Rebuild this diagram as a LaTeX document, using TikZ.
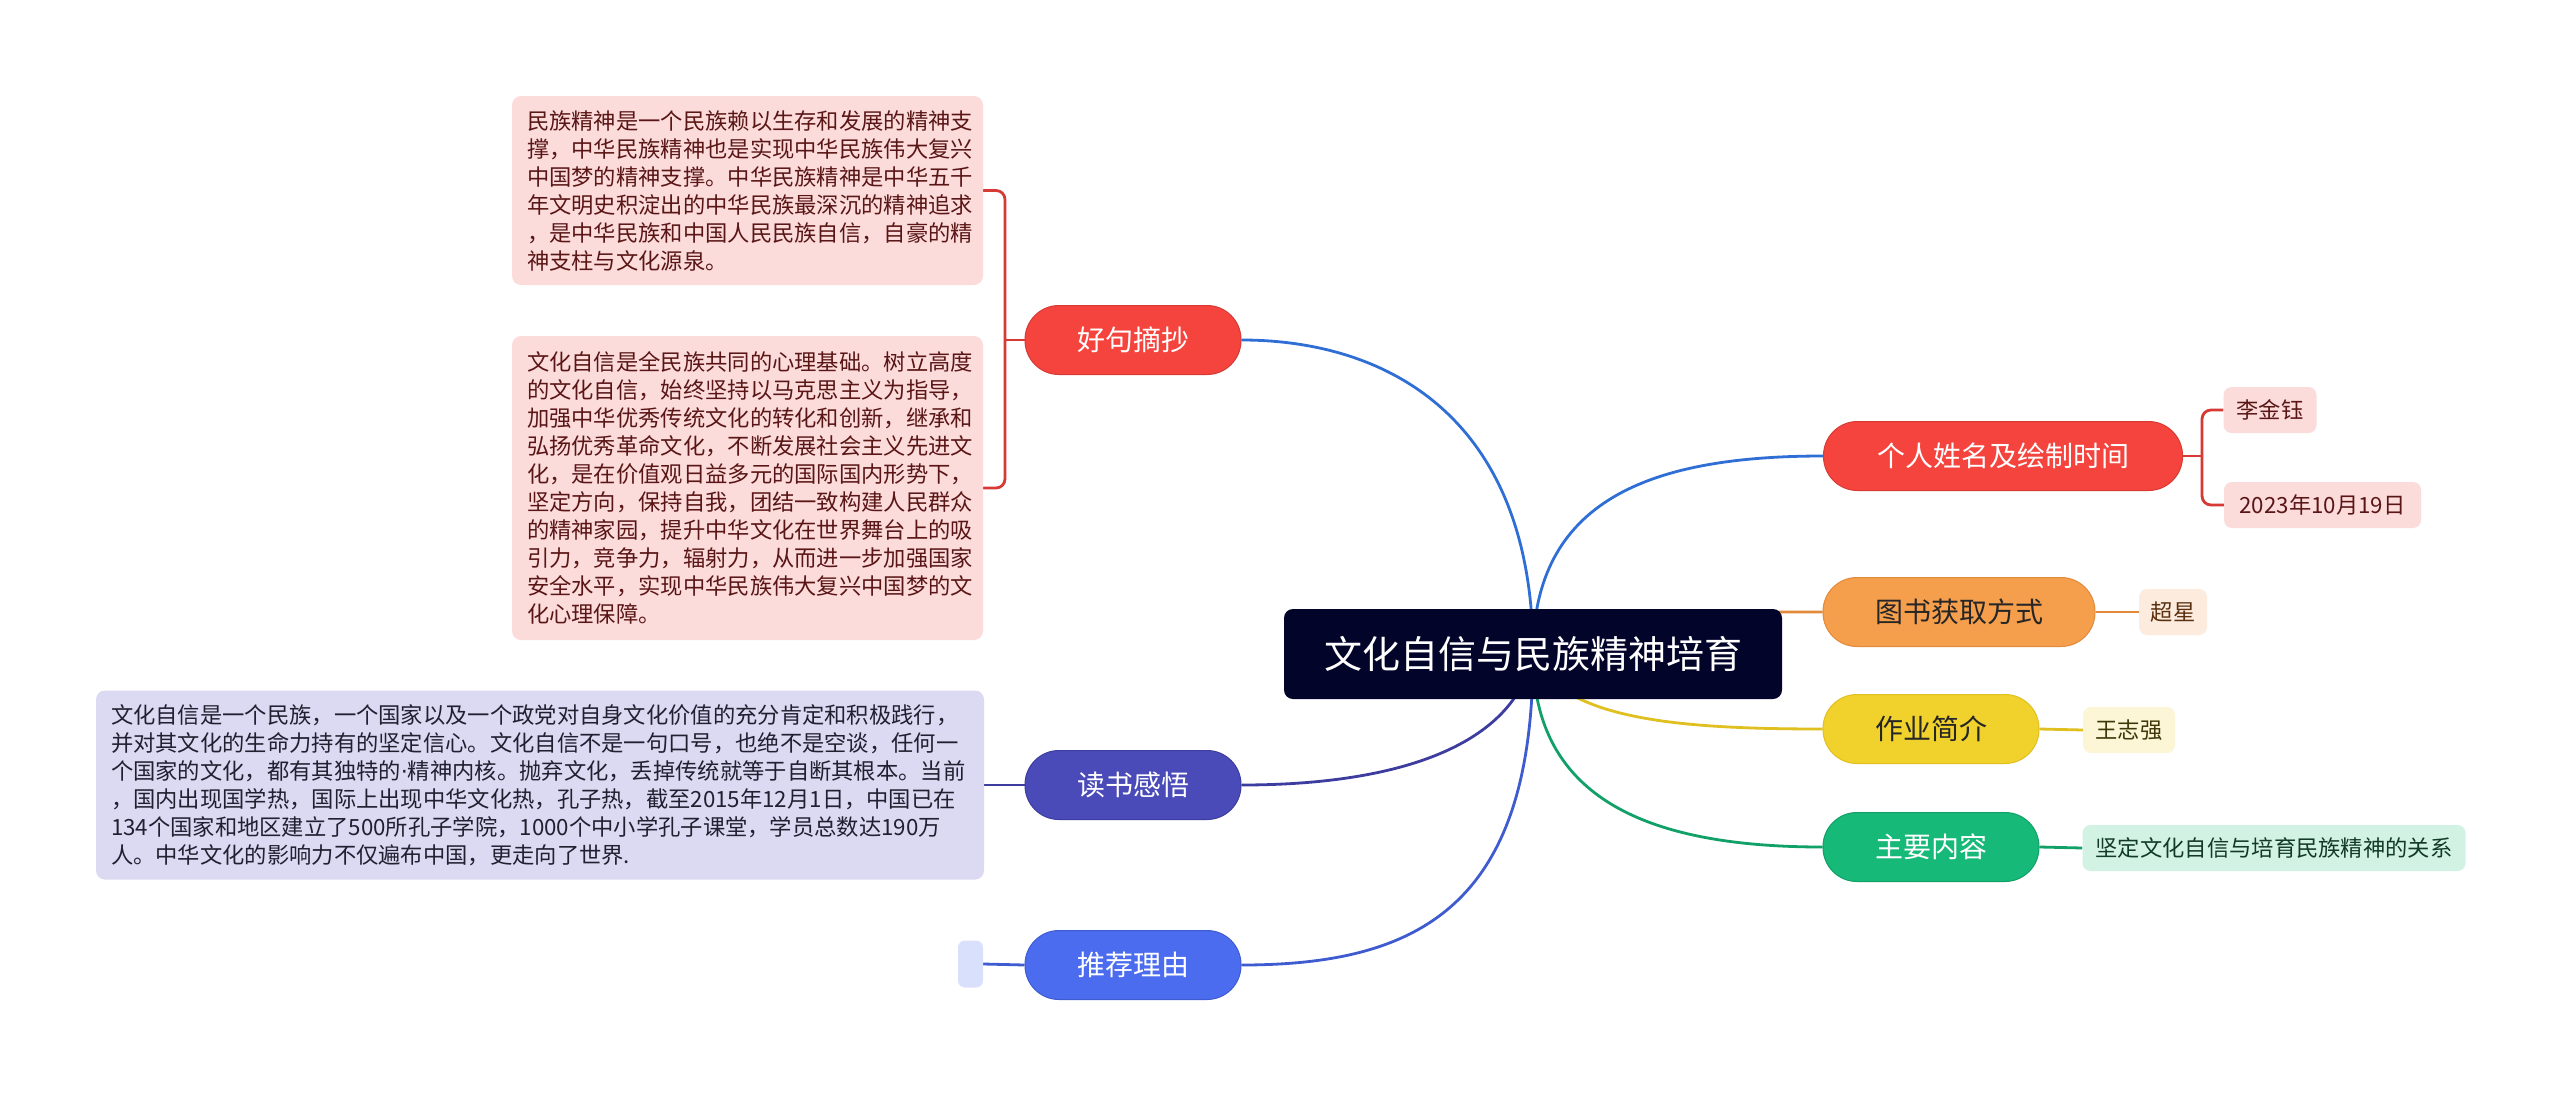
\documentclass[tikz,border=0pt]{standalone}
\usepackage{fontspec}
\setmainfont{Noto Sans CJK SC}
\newfontfamily\dotfont{DejaVu Sans}
\pgfdeclarelayer{lines}
\pgfsetlayers{lines,main}
\definecolor{rootbg}{HTML}{03042A}
\definecolor{redf}{HTML}{F5443E}
\definecolor{redd}{HTML}{D63A35}
\definecolor{indf}{HTML}{4A4BB8}
\definecolor{indd}{HTML}{3C3D9E}
\definecolor{bluf}{HTML}{4B6CEF}
\definecolor{blud}{HTML}{3F5BD0}
\definecolor{oraf}{HTML}{F59E4C}
\definecolor{orad}{HTML}{E08A3A}
\definecolor{yelf}{HTML}{F1D22C}
\definecolor{yeld}{HTML}{E0C020}
\definecolor{grnf}{HTML}{17B979}
\definecolor{grnd}{HTML}{10A068}
\definecolor{cblue}{HTML}{2F6FD5}
\definecolor{pinkl}{HTML}{FCDCDB}
\definecolor{lavl}{HTML}{DCDAF3}
\definecolor{skyl}{HTML}{D8E0FB}
\definecolor{peachl}{HTML}{FDEBDD}
\definecolor{creaml}{HTML}{FCF5D6}
\definecolor{mintl}{HTML}{D2F2E4}
\definecolor{darkred}{HTML}{5A1616}
\definecolor{darkbrown}{HTML}{5A3010}
\definecolor{darkolive}{HTML}{3E3808}
\definecolor{darkgreen}{HTML}{123A28}
\definecolor{darkgray}{HTML}{202030}
\tikzset{
  rootbox/.style={fill=rootbg, text=white, rounded corners=9pt, minimum width=498pt, minimum height=90pt, inner sep=0pt, font=\fontsize{38}{44}\selectfont},
  lone/.style={rounded corners=34pt, minimum height=69pt, inner sep=0pt, line width=1pt, font=\fontsize{28}{34}\selectfont},
  leaf/.style={rounded corners=8pt, minimum height=46pt, inner sep=0pt, font=\fontsize{22.3}{28}\selectfont},
  para/.style={rounded corners=9pt, inner xsep=15pt, inner ysep=0pt, align=left, font=\fontsize{22.3}{28}\selectfont},
  conn/.style={line width=2.8pt},
}
\begin{document}
\begin{tikzpicture}[x=1pt,y=-1pt]
\useasboundingbox (0,0) rectangle (2560,1095);
% root
\node[rootbox] (root) at (1533,654) {文化自信与民族精神培育};
% left level 1
\node[lone, fill=redf, draw=redd, text=white, minimum width=216pt] (hao) at (1133,340) {好句摘抄};
\node[lone, fill=indf, draw=indd, text=white, minimum width=216pt] (du) at (1133,785) {读书感悟};
\node[lone, fill=bluf, draw=blud, text=white, minimum width=216pt] (tui) at (1133,965) {推荐理由};
% left leaves
\node[para, fill=pinkl, text=darkred, text width=441pt, minimum height=189pt] (p1) at (747.5,190.5) {民族精神是一个民族赖以生存和发展的精神支\\撑，中华民族精神也是实现中华民族伟大复兴\\中国梦的精神支撑。中华民族精神是中华五千\\年文明史积淀出的中华民族最深沉的精神追求\\，是中华民族和中国人民民族自信，自豪的精\\神支柱与文化源泉。};
\node[para, fill=pinkl, text=darkred, text width=441pt, minimum height=304pt] (p2) at (747.5,488) {文化自信是全民族共同的心理基础。树立高度\\的文化自信，始终坚持以马克思主义为指导，\\加强中华优秀传统文化的转化和创新，继承和\\弘扬优秀革命文化，不断发展社会主义先进文\\化，是在价值观日益多元的国际国内形势下，\\坚定方向，保持自我，团结一致构建人民群众\\的精神家园，提升中华文化在世界舞台上的吸\\引力，竞争力，辐射力，从而进一步加强国家\\安全水平，实现中华民族伟大复兴中国梦的文\\化心理保障。};
\node[para, fill=lavl, text=darkgray, text width=858pt, minimum height=189pt] (p3) at (540,785) {文化自信是一个民族，一个国家以及一个政党对自身文化价值的充分肯定和积极践行，\\并对其文化的生命力持有的坚定信心。文化自信不是一句口号，也绝不是空谈，任何一\\个国家的文化，都有其独特的{\dotfont ·}精神内核。抛弃文化，丢掉传统就等于自断其根本。当前\\，国内出现国学热，国际上出现中华文化热，孔子热，截至2015年12月1日，中国已在\\134个国家和地区建立了500所孔子学院，1000个中小学孔子课堂，学员总数达190万\\人。中华文化的影响力不仅遍布中国，更走向了世界.};
\node[leaf, fill=skyl, minimum width=25pt, minimum height=47pt, rounded corners=7pt] (empty) at (970.5,964) {};
% right level 1
\node[lone, fill=redf, draw=redd, text=white, minimum width=359pt] (ren) at (2003,456) {个人姓名及绘制时间};
\node[lone, fill=oraf, draw=orad, text=black!85, minimum width=272pt] (tu) at (1959,612) {图书获取方式};
\node[lone, fill=yelf, draw=yeld, text=black!85, minimum width=216pt] (zuo) at (1931,729) {作业简介};
\node[lone, fill=grnf, draw=grnd, text=white, minimum width=216pt] (zhu) at (1931,847) {主要内容};
% right leaves
\node[leaf, fill=pinkl, text=darkred, minimum width=93pt] (li) at (2270,410) {李金钰};
\node[leaf, fill=pinkl, text=darkred, minimum width=197pt] (date) at (2322.5,505) {2023年10月19日};
\node[leaf, fill=peachl, text=darkbrown, minimum width=68pt] (chao) at (2173,612) {超星};
\node[leaf, fill=creaml, text=darkolive, minimum width=92pt] (wang) at (2129,730) {王志强};
\node[leaf, fill=mintl, text=darkgreen, minimum width=383pt] (jian) at (2274,848) {坚定文化自信与培育民族精神的关系};
% bracket points
\coordinate (lb) at (1005,340);
\coordinate (rb) at (2202,456);
\begin{pgfonlayer}{lines}
\fill[white] (0,0) rectangle (2560,1095);
% root connectors
\draw[conn, cblue] (root.center) .. controls (1533,420) and (1390,340) .. (hao.east);
\draw[conn, indd] (root.center) .. controls (1515,745) and (1400,785) .. (du.east);
\draw[conn, blud] (root.center) .. controls (1533,905) and (1420,965) .. (tui.east);
\draw[conn, cblue] (root.center) .. controls (1533,500) and (1650,456) .. (ren.west);
\draw[conn, orad] (root.center) .. controls (1600,612) and (1700,612) .. (tu.west);
\draw[conn, yeld] (root.center) .. controls (1560,720) and (1680,729) .. (zuo.west);
\draw[conn, grnd] (root.center) .. controls (1533,800) and (1650,847) .. (zhu.west);
% left side
\draw[conn, redd, rounded corners=9pt] (p1.east) -| (lb) |- (p2.east);
\draw[conn, redd] (hao.west) -- (lb);
\draw[conn, indd] (du.west) -- (p3.east);
\draw[conn, blud] (tui.west) -- (empty.east);
% right side
\draw[conn, redd, rounded corners=9pt] (li.west) -| (rb) |- (date.west);
\draw[conn, redd] (ren.east) -- (rb);
\draw[conn, orad] (tu.east) -- (chao.west);
\draw[conn, yeld] (zuo.east) -- (wang.west);
\draw[conn, grnd] (zhu.east) -- (jian.west);
\end{pgfonlayer}
\end{tikzpicture}
\end{document}
